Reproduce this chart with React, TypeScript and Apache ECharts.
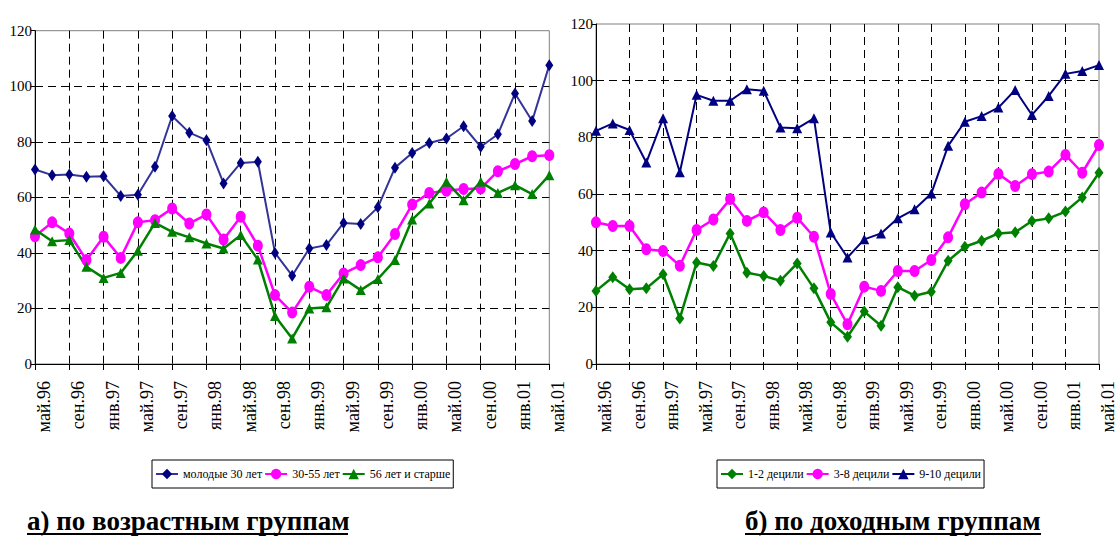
import React, { useEffect, useRef } from 'react';
import * as echarts from 'echarts';

const categories = [
  'май.96', 'июл.96', 'сен.96', 'ноя.96', 'янв.97', 'мар.97', 'май.97', 'июл.97', 'сен.97', 'ноя.97',
  'янв.98', 'мар.98', 'май.98', 'июл.98', 'сен.98', 'ноя.98', 'янв.99', 'мар.99', 'май.99', 'июл.99',
  'сен.99', 'ноя.99', 'янв.00', 'мар.00', 'май.00', 'июл.00', 'сен.00', 'ноя.00', 'янв.01', 'мар.01', 'май.01',
];

const ageYoung = [70, 68, 68.2, 67.4, 67.6, 60.5, 60.9, 71, 89.3, 83.3, 80.6, 65, 72.4, 72.8, 40, 31.8, 41.6, 42.8, 50.8, 50.4, 56.4, 70.7, 76, 79.6, 81.2, 85.6, 78.2, 82.7, 97.4, 87.5, 107.6];
const ageMiddle = [46, 51, 47, 37.4, 45.8, 38.2, 51, 51.8, 56, 50.6, 53.8, 44.8, 53, 42.6, 24.8, 18.5, 27.8, 24.8, 32.6, 35.6, 38.4, 46.8, 57.4, 61.6, 62.4, 63, 63.2, 69.4, 72, 74.8, 75.2];
const ageOld = [48.4, 44.2, 44.6, 35, 31, 32.8, 40.8, 50.8, 47.6, 45.6, 43.4, 41.6, 46.4, 37.6, 17.3, 9.2, 20, 20.4, 30.8, 26.6, 30.6, 37.4, 52, 57.8, 65.6, 59, 65.6, 61.6, 64.4, 61.2, 68];

const dec12 = [25.8, 30.6, 26.4, 26.7, 31.7, 16.1, 35.8, 34.6, 46.1, 32.2, 31.1, 29.4, 35.5, 26.7, 14.7, 9.6, 18.5, 13.5, 27.1, 24.1, 25.5, 36.4, 41.4, 43.5, 46.1, 46.5, 50.5, 51.4, 53.8, 58.8, 67.5];
const dec38 = [50, 48.7, 48.7, 40.5, 39.9, 34.7, 47.3, 51, 58.2, 50.5, 53.5, 47.3, 51.6, 44.9, 24.7, 14, 27.3, 25.8, 32.8, 32.8, 36.7, 44.7, 56.4, 60.5, 67.1, 62.8, 67, 67.9, 73.8, 67.5, 77.3];
const dec910 = [82.3, 84.9, 82.6, 71.1, 86.7, 67.7, 95, 92.9, 92.9, 97, 96.4, 83.5, 83.2, 86.7, 46.4, 37.6, 44, 46.1, 51.4, 54.6, 60.2, 77, 85.5, 87.5, 90.5, 96.7, 87.9, 94.6, 102.4, 103.4, 105.5];

const ageNames = ['молодые 30 лет', '30-55 лет', '56 лет и старше'];
const incomeNames = ['1-2 децили', '3-8 децили', '9-10 децили'];
const panelTitles = ['а) по возрастным группам', 'б) по доходным группам'];

const FONT = 'Liberation Serif, Times New Roman, DejaVu Serif, serif';

export default function App() {
  const ref = useRef<HTMLDivElement>(null);

  useEffect(() => {
    const chart = echarts.init(ref.current!, null, { renderer: 'svg' });

    const xAxis = (gridIndex: number) => ({
      type: 'category',
      gridIndex,
      data: categories,
      boundaryGap: false,
      axisLine: { show: true, lineStyle: { color: '#000', width: 1 } },
      axisTick: { show: true, interval: 1, length: 6, lineStyle: { color: '#000' } },
      axisLabel: {
        interval: 1, rotate: 90, margin: 17, verticalAlign: 'top',
        fontFamily: FONT, fontSize: 18, color: '#000',
      },
      splitLine: {
        show: true, interval: 1, showMinLine: false, showMaxLine: false,
        lineStyle: { color: '#000', type: [8, 5], width: 1 },
      },
    });

    const yAxis = (gridIndex: number) => ({
      type: 'value',
      gridIndex,
      min: 0,
      max: 120,
      interval: 20,
      axisLine: { show: true, lineStyle: { color: '#000', width: 1 } },
      axisTick: { show: true, length: 4, lineStyle: { color: '#000' } },
      axisLabel: { margin: 3, fontFamily: FONT, fontSize: 15, color: '#000' },
      splitLine: {
        show: true, showMinLine: false, showMaxLine: false,
        lineStyle: { color: '#000', type: [8, 5], width: 1 },
      },
    });

    const line = (name: string, data: number[], idx: number, lineColor: string, markColor: string,
      symbol: string, symbolSize: number[], width: number) => ({
      name, type: 'line', data, xAxisIndex: idx, yAxisIndex: idx,
      symbol, symbolSize, showAllSymbol: true,
      lineStyle: { color: lineColor, width },
      itemStyle: { color: markColor, borderWidth: 0 },
      color: markColor,
    });

    const legendBase = {
      orient: 'horizontal',
      top: 460,
      borderColor: '#000',
      borderWidth: 1,
      backgroundColor: '#fff',
      padding: [8, 3, 8, 3],
      itemGap: 2,
      itemWidth: 22,
      itemHeight: 13,
      textStyle: { fontFamily: FONT, fontSize: 12, color: '#000' },
    };

    const titleStyle = { fontFamily: FONT, fontWeight: 'bold', fontSize: 27, color: '#000' };

    chart.setOption({
      animation: false,
      backgroundColor: '#fff',
      textStyle: { fontFamily: FONT },
      grid: [
        { left: 35, top: 30.7, width: 514.3, height: 333.3, show: true, borderColor: '#808080', borderWidth: 1, backgroundColor: 'transparent' },
        { left: 596, top: 24, width: 511.3, height: 340, show: true, borderColor: '#808080', borderWidth: 1, backgroundColor: 'transparent' },
      ],
      xAxis: [xAxis(0), xAxis(1)],
      yAxis: [yAxis(0), yAxis(1)],
      legend: [
        { ...legendBase, left: 152, data: ageNames },
        { ...legendBase, left: 717, data: incomeNames },
      ],
      title: [
        { text: panelTitles[0], left: 27, top: 507, padding: 0, textStyle: titleStyle },
        { text: panelTitles[1], left: 745, top: 507, padding: 0, textStyle: titleStyle },
      ],
      graphic: [
        { type: 'rect', shape: { x: 27, y: 533, width: 321, height: 2 }, style: { fill: '#000' } },
        { type: 'rect', shape: { x: 745, y: 533, width: 296, height: 2 }, style: { fill: '#000' } },
      ],
      series: [
        line(ageNames[0], ageYoung, 0, '#333399', '#000080', 'diamond', [8, 12], 2),
        line(ageNames[1], ageMiddle, 0, '#FF00FF', '#FF00FF', 'circle', [10, 12], 2.5),
        line(ageNames[2], ageOld, 0, '#008000', '#008000', 'triangle', [10, 10], 2.5),
        line(incomeNames[0], dec12, 1, '#008000', '#008000', 'diamond', [9, 12], 2.5),
        line(incomeNames[1], dec38, 1, '#FF00FF', '#FF00FF', 'circle', [10, 12], 2.5),
        line(incomeNames[2], dec910, 1, '#000080', '#000080', 'triangle', [10, 10], 2),
      ],
    });

    return () => chart.dispose();
  }, []);

  return (
    <div
      ref={ref}
      style={{ position: 'absolute', left: 0, top: 0, width: 1117, height: 537, background: '#fff' }}
    />
  );
}
